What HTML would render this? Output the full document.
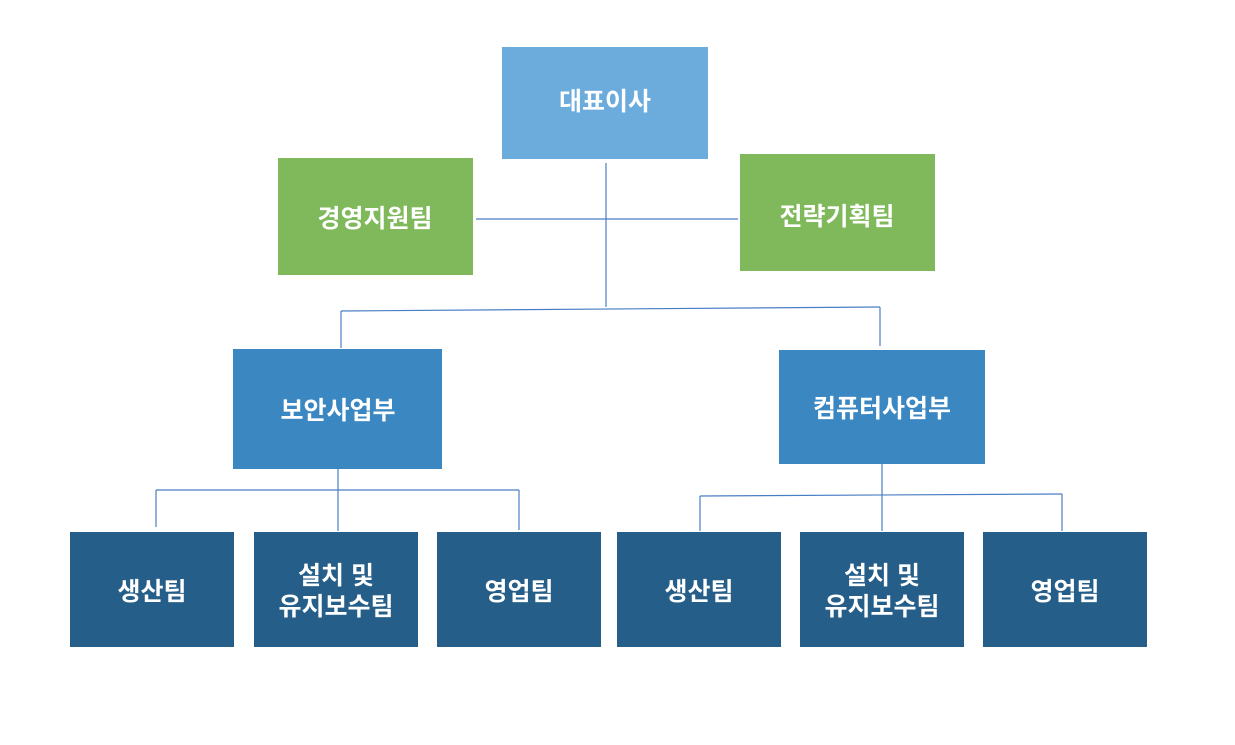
<!DOCTYPE html>
<html><head><meta charset="utf-8"><style>
body{margin:0;background:#fff;width:1235px;height:740px;overflow:hidden}
svg text{font-family:"Liberation Sans","Noto Sans CJK KR",sans-serif;font-weight:bold;fill:#fff;font-size:25px;text-anchor:middle;dominant-baseline:central}
</style></head><body>
<svg width="1235" height="740" xmlns="http://www.w3.org/2000/svg">
<g stroke="#4a7ec4" stroke-width="1.2" fill="none">
<line x1="606" y1="163" x2="606" y2="307"/>
<line x1="476" y1="219" x2="738" y2="219"/>
<line x1="341" y1="311" x2="880" y2="307"/>
<line x1="341" y1="311" x2="341" y2="348"/>
<line x1="880" y1="307" x2="880" y2="346"/>
<line x1="338" y1="469" x2="338" y2="531"/>
<line x1="156" y1="490" x2="519" y2="490"/>
<line x1="156" y1="490" x2="156" y2="527"/>
<line x1="519" y1="490" x2="519" y2="530"/>
<line x1="882" y1="464" x2="882" y2="531"/>
<line x1="700" y1="496" x2="1062" y2="494"/>
<line x1="700" y1="496" x2="700" y2="531"/>
<line x1="1062" y1="494" x2="1062" y2="531"/>
</g>
<rect x="502" y="47" width="206" height="112" fill="#6cacdd"/>
<text x="605" y="102">대표이사</text>
<rect x="278" y="158" width="195" height="117" fill="#7fb95b"/>
<text x="375" y="219">경영지원팀</text>
<rect x="740" y="154" width="195" height="117" fill="#7fb95b"/>
<text x="837" y="217">전략기획팀</text>
<rect x="233" y="349" width="209" height="120" fill="#3a87c2"/>
<text x="338" y="411">보안사업부</text>
<rect x="779" y="350" width="206" height="114" fill="#3a87c2"/>
<text x="882" y="409">컴퓨터사업부</text>
<g fill="#265e8a">
<rect x="70" y="532" width="164" height="115"/>
<rect x="254" y="532" width="164" height="115"/>
<rect x="437" y="532" width="164" height="115"/>
<rect x="617" y="532" width="164" height="115"/>
<rect x="800" y="532" width="164" height="115"/>
<rect x="983" y="532" width="164" height="115"/>
</g>
<text x="152" y="592">생산팀</text>
<text x="336" y="576">설치 및</text>
<text x="336" y="607">유지보수팀</text>
<text x="519" y="592">영업팀</text>
<text x="699" y="592">생산팀</text>
<text x="882" y="576">설치 및</text>
<text x="882" y="607">유지보수팀</text>
<text x="1065" y="592">영업팀</text>
</svg>
</body></html>
